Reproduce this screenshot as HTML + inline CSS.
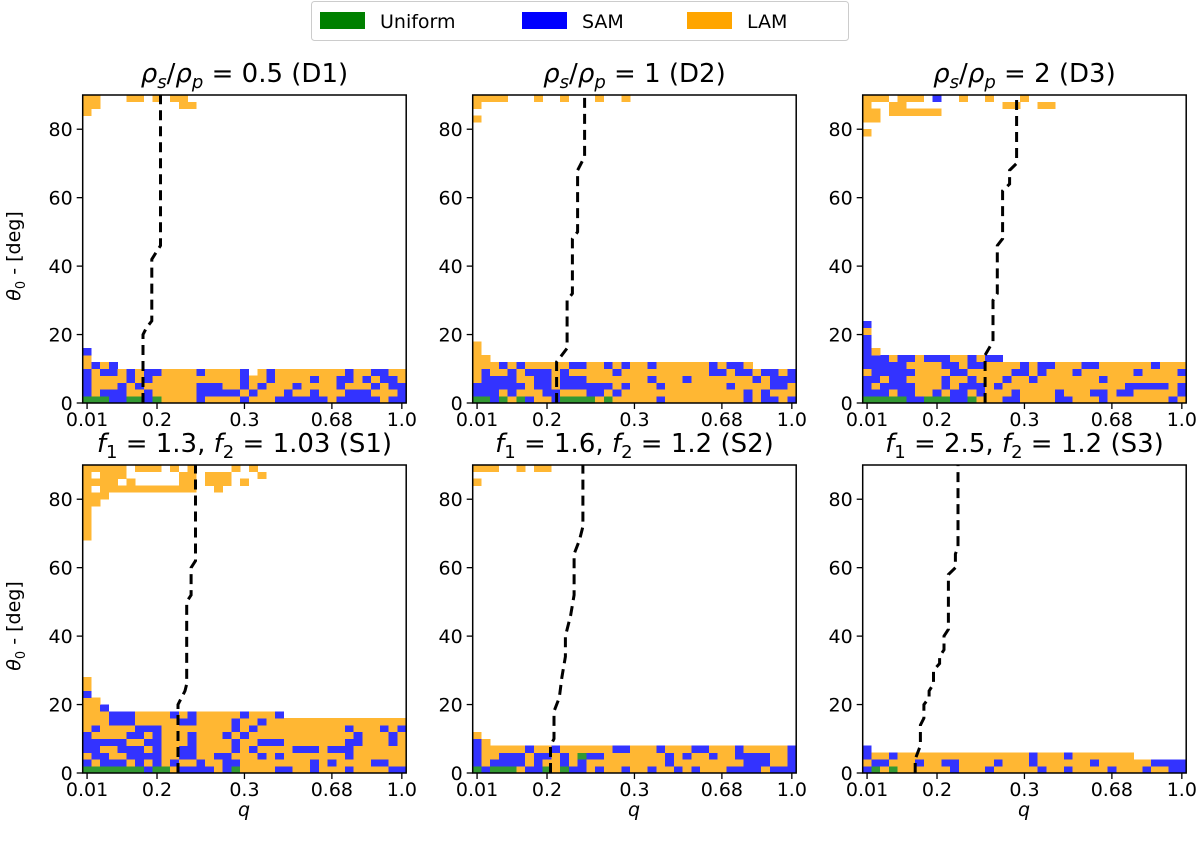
<!DOCTYPE html>
<html><head><meta charset="utf-8">
<style>
body{margin:0;background:#fff;}
svg{display:block;font-family:"DejaVu Sans","Liberation Sans",sans-serif;}
</style></head>
<body>
<svg id="fig" width="1200" height="843" viewBox="0 0 1200 843" xmlns="http://www.w3.org/2000/svg">
  <g>
    <rect x="311.5" y="1.5" width="537" height="39" rx="3" fill="#fff" stroke="#ccc"/>
    <g>
      <rect x="320" y="12" width="45" height="17" fill="#008000"/>
      <text x="380" y="28" font-size="19">Uniform</text>
    </g>
    <g>
      <rect x="522" y="12" width="45" height="17" fill="#0000ff"/>
      <text x="582" y="28" font-size="19">SAM</text>
    </g>
    <g>
      <rect x="687" y="12" width="45" height="17" fill="#ffa500"/>
      <text x="747" y="28" font-size="19">LAM</text>
    </g>
  </g>
  <text transform="translate(20,256) rotate(-90)" text-anchor="middle" font-size="19"><tspan font-style="italic">θ</tspan><tspan font-size="13" dy="5">0</tspan><tspan dy="-5"> - [deg]</tspan></text>
  <text transform="translate(20,626) rotate(-90)" text-anchor="middle" font-size="19"><tspan font-style="italic">θ</tspan><tspan font-size="13" dy="5">0</tspan><tspan dy="-5"> - [deg]</tspan></text>
  <text x="244" y="816" text-anchor="middle" font-size="19" font-style="italic">q</text>
  <text x="634" y="816" text-anchor="middle" font-size="19" font-style="italic">q</text>
  <text x="1024" y="816" text-anchor="middle" font-size="19" font-style="italic">q</text>
</svg>
<script>
// ---- data ----
const nCols = 37;
const nRows = 45;
const xTickCols = [0, 8, 18, 28, 36];
const xTickLabels = ["0.01", "0.2", "0.3", "0.68", "1.0"];
const yTicks = [0, 20, 40, 60, 80];
const panelIds = ["D1", "D2", "D3", "S1", "S2", "S3"];

// rows: [rowIndex (0 = 0-2 deg), pattern]; U=Uniform, S=SAM, L=LAM, .=none
const rowsD1 = [
 [0,"UUUSSUUSULLLLSLLLLSLLLSSSSSSLSSSSSLSS"],
 [1,"SLSSSLLSLLLLLSSSSSLSLLLSLLSLLLSSSLLLS"],
 [2,"SLLLSLSLLLLLLSSSLLSLSLLLSLLLLSLLLSLSS"],
 [3,"SLLLLSLSLLLLLLLLLLSLLSLLLLSLLSSLSLSSL"],
 [4,"SLSSLSLSSLLLLSLLLLS.LSLLLLLLLLSLLSSLL"],
 [5,"LSLS"],[6,"L"],[7,"S"],
 [42,"L"],[43,"LL.........LL"],[44,"LL...LL.L.LL"]
];
const rowsD2 = [
 [0,"UUSULUSLLSUUUULULLLLLSLLLLLLLLLSLSSLS"],
 [1,"SSSLSLLLSSLLLSSLSLLLLLLLLLLLLLLSLSLLL"],
 [2,"SSSSSSLSSLSSSSSSLSLLLSLLLLLLLSLLLLSSL"],
 [3,"LSSSSLLSSLSSSLLLLLLLSLLLSLLLLLLLSLSSS"],
 [4,"LSLLSLSSSLSLLLLLSLLLLLLLLLLSSLSSLSSLS"],
 [5,"LLLSLSLLLLLSSLLSLSLLSLLLLLLSLSSL"],
 [6,"LL"],[7,"L"],[8,"L"],
 [41,"L"],[43,"L"],[44,"LLLL...L..L...L..L"]
];
const rowsD3 = [
 [0,"UUUUUSSUUUSSULLLSSLLLLSSLLLSLLLLLLLSL"],
 [1,"SSSLSSLLSLSSLSLLLSLLLLSLLLSSLSSLLLLLS"],
 [2,"SLSSSSLLLSLSSSLSLLLLLLLLLLLLLLSSSSSLS"],
 [3,"SSLSSLLLLSLLSLLLSLLSLLLLLLLSLLLLLLLLL"],
 [4,"LSSSSSLLLLSSLLLLLSSLSLLLSLLLLLLSLLLLS"],
 [5,"SSSSSLLLLSSLSSLLLLSLSSLLLSSLLLLLLSLLL"],
 [6,"SSSLSSLSSSLLSLSS"],
 [7,"SL"],[8,"S"],[9,"S"],[10,"L"],[11,"S"],
 [39,"L"],[41,"LL"],[42,"LL.LLLLLL"],[43,"L..LL...........LL..LL"],[44,"LLL.LLL.S..L..L...L"]
];
const rowsS1 = [
 [0,"UUUUUUUSUULSSSSLSULLLLSSLLSLLLSLLLLSS"],
 [1,"SLSSSLSLSLSLLSLLSSLLLLLLLLSLSLLLLSSLL"],
 [2,"LSSLLSSSSLLSSLLSSLLLSLSLLLLLLLSLLLLLL"],
 [3,"SSLLSSSLSLLSSLLLLSLSLLLLSSSLSSSLLLLLL"],
 [4,"SSSSSLLSSLLLSLLLLSLLSSSLLLLLLLSSLLLSL"],
 [5,"SLLLLSSLSLLLSLLLSLSLLLLLLLLLLLLSLLLSL"],
 [6,"LSLLLLSSSLLLLLLLLSLSLLLLLLLLLLSLLLSLS"],
 [7,"LLLSSSLLLLLSSLLLLSLLSLLLLLLLLLLLLLLLL"],
 [8,"LLLSSSLLLLSLSLLLLLSLLLS"],
 [9,"LLS"],[10,"LL"],[11,"S"],[12,"L"],[13,"L"],
 [34,"L"],[35,"L"],[36,"L"],[37,"L"],[38,"L"],[39,"LL"],[40,"LLL"],
 [41,"L.LLLLLLLLLLL..L"],[42,"LLLL.L.....LL.LLL.L"],[43,"L.LLL......LL.LLL...L"],[44,"LLLLL.LLL.L.L....L.L"]
];
const rowsS2 = [
 [0,"USUUULSSULUSSLSLLSLLSLLSLSLLLSSSSLSSS"],
 [1,"SLSSSSLSLLSLSLLLLLLLLLSLLLLLLLLSSSLLS"],
 [2,"SLLSSSLSSLSLUSSLLLLLLLSLSLLSLLSSSSLLS"],
 [3,"SLLLLLSLLSLLLLLLSSLLLSLLLSSLLLSLLLLLS"],
 [4,"SL"],[5,"L"],
 [42,"L"],[44,"LLL..L.LL"]
];
const rowsS3 = [
 [0,"SULULLLLLLSLLLSLLLLLSLLSLLLLSLLLSLLSS"],
 [1,"LSSLLLSLLSSLLLLSLLLSLLLLLLSLLLLLLSSSS"],
 [2,"SLLSLLLLLLLLLLLLLLLSLLLSLLLLLLL"],
 [3,"S"]
];
const panelRows = [rowsD1, rowsD2, rowsD3, rowsS1, rowsS2, rowsS3];

// boundary lines: column position vs theta
const lineColD1 = [6.9, 6.9, 7.3, 7.9, 7.9, 8.4, 8.9, 8.9];
const lineThD1  = [0, 20, 22, 24, 42, 44, 46, 90];
const lineColD2 = [9.6, 9.6, 10.2, 10.8, 10.8, 11.4, 11.4, 12.0, 12.0, 12.8, 12.8];
const lineThD2  = [0, 12, 14, 16, 30, 32, 48, 50, 68, 72, 90];
const lineColD3 = [14.0, 14.0, 14.9, 14.9, 15.4, 15.4, 16.0, 16.0, 16.8, 16.8, 17.6, 17.6];
const lineThD3  = [0, 14, 18, 30, 32, 46, 48, 62, 64, 68, 70, 90];
const lineColS1 = [10.9, 10.9, 11.7, 11.9, 11.9, 12.4, 12.4, 12.9, 12.9];
const lineThS1  = [0, 20, 24, 26, 50, 52, 60, 62, 90];
const lineColS2 = [8.9, 8.9, 9.3, 9.3, 9.9, 10.2, 10.6, 10.6, 11.2, 11.6, 11.6, 12.2, 12.6, 12.6];
const lineThS2  = [0, 8, 10, 18, 22, 28, 34, 40, 46, 52, 64, 68, 72, 90];
const lineColS3 = [6.0, 6.0, 6.6, 6.6, 7.0, 7.0, 7.6, 7.6, 8.1, 8.1, 8.8, 8.8, 9.3, 9.3, 9.8, 9.8, 10.6, 10.6, 10.9, 10.9];
const lineThS3  = [0, 4, 8, 14, 16, 20, 22, 24, 26, 30, 32, 34, 36, 40, 42, 58, 60, 64, 66, 90];
const lineCols = [lineColD1, lineColD2, lineColD3, lineColS1, lineColS2, lineColS3];
const lineThs  = [lineThD1, lineThD2, lineThD3, lineThS1, lineThS2, lineThS3];

// ---- layout ----
const NS = "http://www.w3.org/2000/svg";
const svg = document.getElementById("fig");
const lefts = [82.7, 472.7, 862.7];
const tops = [95, 465];
const PW = 323.5, PH = 308;
const colors = {U:"#339933", S:"#3333ff", L:"#ffb733"};
const names = {U:"uniform", S:"sam", L:"lam"};

function mk(tag, attrs, parent){
  const e = document.createElementNS(NS, tag);
  for (const k in attrs) e.setAttribute(k, attrs[k]);
  parent.appendChild(e);
  return e;
}

const sub = (s, it) => '<tspan font-size="18" dy="6"' + (it ? ' font-style="italic"' : '') + '>' + s + '</tspan>';
const titles = [
 '<tspan font-style="italic">ρ</tspan>' + sub('s',1) + '<tspan dy="-6">/</tspan><tspan font-style="italic">ρ</tspan>' + sub('p',1) + '<tspan dy="-6"> = 0.5 (D1)</tspan>',
 '<tspan font-style="italic">ρ</tspan>' + sub('s',1) + '<tspan dy="-6">/</tspan><tspan font-style="italic">ρ</tspan>' + sub('p',1) + '<tspan dy="-6"> = 1 (D2)</tspan>',
 '<tspan font-style="italic">ρ</tspan>' + sub('s',1) + '<tspan dy="-6">/</tspan><tspan font-style="italic">ρ</tspan>' + sub('p',1) + '<tspan dy="-6"> = 2 (D3)</tspan>',
 '<tspan font-style="italic">f</tspan>' + sub('1') + '<tspan dy="-6"> = 1.3, </tspan><tspan font-style="italic">f</tspan>' + sub('2') + '<tspan dy="-6"> = 1.03 (S1)</tspan>',
 '<tspan font-style="italic">f</tspan>' + sub('1') + '<tspan dy="-6"> = 1.6, </tspan><tspan font-style="italic">f</tspan>' + sub('2') + '<tspan dy="-6"> = 1.2 (S2)</tspan>',
 '<tspan font-style="italic">f</tspan>' + sub('1') + '<tspan dy="-6"> = 2.5, </tspan><tspan font-style="italic">f</tspan>' + sub('2') + '<tspan dy="-6"> = 1.2 (S3)</tspan>'
];

for (let p = 0; p < 6; p++){
  const L = lefts[p % 3], T = tops[Math.floor(p / 3)];
  const cw = PW / nCols, rh = PH / nRows;
  const xOf = c => L + c * cw;
  const yOf = th => T + PH - th / 90 * PH;
  const g = mk("g", {}, svg);
  
  

  const t = mk("text", {x: L + PW / 2, y: T - 13, "text-anchor": "middle", "font-size": "26"}, g);
  t.innerHTML = titles[p];
  
  

  const cells = mk("g", {"shape-rendering": "crispEdges"}, g);
  
  
  for (const [r, pat] of panelRows[p]){
    for (let c = 0; c < pat.length && c < nCols; c++){
      const ch = pat[c];
      if (!colors[ch]) continue;
      const x0 = xOf(c), y1 = yOf(r * 2);
      const rc = mk("rect", {x: x0.toFixed(2), y: (y1 - rh).toFixed(2), width: (cw + 0.3).toFixed(2), height: (rh + 0.3).toFixed(2), fill: colors[ch]}, cells);
      
      
    }
  }

  const lc = lineCols[p], lt = lineThs[p];
  let d = "";
  for (let i = 0; i < lc.length; i++) d += (i ? "L" : "M") + xOf(lc[i]).toFixed(1) + " " + yOf(lt[i]).toFixed(1);
  const ln = mk("path", {d: d, fill: "none", stroke: "#000", "stroke-width": "3", "stroke-dasharray": "10 6"}, g);
  
  

  const fr = mk("rect", {x: L, y: T, width: PW, height: PH, fill: "none", stroke: "#000", "stroke-width": "1.5"}, g);
  
  

  xTickCols.forEach((c, i) => {
    const x = xOf(c + 0.5);
    const tk = mk("line", {x1: x, x2: x, y1: T + PH, y2: T + PH + 6, stroke: "#000", "stroke-width": "1.3"}, g);
    
    
    const tl = mk("text", {x: x, y: T + PH + 23, "text-anchor": "middle", "font-size": "19"}, g);
    tl.textContent = xTickLabels[i];
    
    
  });
  yTicks.forEach(v => {
    const y = yOf(v);
    const tk = mk("line", {x1: L - 6, x2: L, y1: y, y2: y, stroke: "#000", "stroke-width": "1.3"}, g);
    
    
    const tl = mk("text", {x: L - 10, y: y + 7, "text-anchor": "end", "font-size": "19"}, g);
    tl.textContent = v;
    
    
  });
}
</script>
</body></html>
